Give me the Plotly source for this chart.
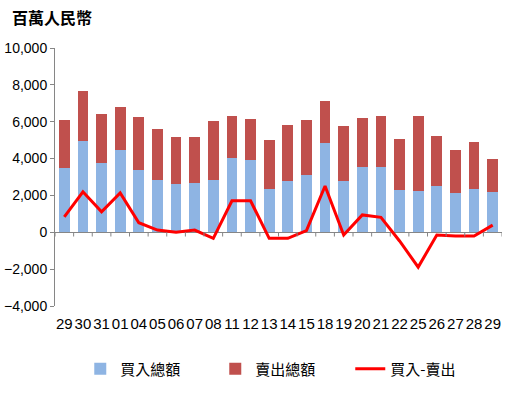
import plotly.graph_objects as go

dates = ["29", "30", "31", "01", "04", "05", "06", "07", "08", "11", "12", "13",
         "14", "15", "18", "19", "20", "21", "22", "25", "26", "27", "28", "29"]
buy_total = [3480, 4940, 3750, 4450, 3370, 2830, 2600, 2650, 2830, 4020, 3910, 2340,
             2760, 3100, 4830, 2780, 3530, 3570, 2290, 2220, 2510, 2130, 2340, 2180]
sell_total = [2600, 2710, 2650, 2330, 2870, 2760, 2560, 2510, 3190, 2270, 2220, 2650,
              3050, 2980, 2270, 2970, 2660, 2720, 2760, 4070, 2700, 2320, 2550, 1790]
net = [840, 2200, 1110, 2140, 520, 120, 0, 120, -330, 1710, 1710, -330,
       -330, 90, 2510, -150, 940, 810, -470, -1890, -150, -200, -200, 390]

x = list(range(len(dates)))
FONT = "Liberation Sans, Noto Sans CJK TC, sans-serif"
CJK = "Noto Sans CJK TC, sans-serif"

fig = go.Figure()
fig.add_trace(go.Bar(x=x, y=buy_total, name="買入總額", marker_color="#8EB4E3",
                     marker_line_width=0))
fig.add_trace(go.Bar(x=x, y=sell_total, name="賣出總額", marker_color="#C0504D",
                     marker_line_width=0))
fig.add_trace(go.Scatter(x=x, y=net, name="買入-賣出", mode="lines",
                         line=dict(color="#FF0000", width=3)))

# category tick marks on the zero line
shapes = []
for i in range(len(dates) + 1):
    shapes.append(dict(type="line", xref="x", yref="y", x0=i - 0.5, x1=i - 0.5,
                       y0=0, y1=-230, line=dict(color="#868686", width=1)))

fig.update_layout(
    width=516, height=396,
    margin=dict(l=55, r=14, t=48, b=90, autoexpand=False),
    barmode="stack", bargap=0.42,
    plot_bgcolor="white", paper_bgcolor="white",
    showlegend=True,
    legend=dict(orientation="h", x=0.548, xanchor="center", xref="container",
                y=1 - 369 / 396, yref="container", yanchor="middle",
                font=dict(family=CJK, size=15, color="black"),
                traceorder="normal", entrywidth=90, itemwidth=30),
    title=dict(text="<b>百萬人民幣</b>", xref="container", yref="container",
               x=12 / 516, y=1 - 18 / 396, xanchor="left", yanchor="middle",
               font=dict(family=CJK, size=16, color="black")),
    shapes=shapes,
)
fig.update_xaxes(range=[-0.5, len(dates) - 0.5], tickmode="array", tickvals=x,
                 ticktext=dates, showline=False, ticks="", showgrid=False,
                 zeroline=False, tickangle=0, automargin=False, ticklabelstandoff=7,
                 tickfont=dict(family=FONT, size=15, color="black"))
fig.update_yaxes(range=[-4000, 10000], tickvals=list(range(-4000, 10001, 2000)),
                 tickformat=",d", showline=True, linecolor="#868686", linewidth=1,
                 ticks="outside", ticklen=4, tickcolor="#868686", showgrid=False,
                 zeroline=True, zerolinecolor="#868686", zerolinewidth=1,
                 automargin=False,
                 tickfont=dict(family=FONT, size=14, color="black"))

fig.write_html("out.html", config={"displayModeBar": False},
               post_script="document.body.style.margin='0';document.body.style.padding='0';")
